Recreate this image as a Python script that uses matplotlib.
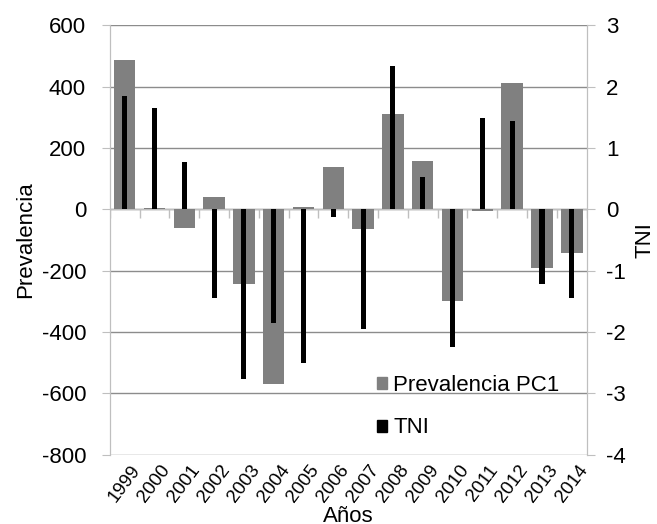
import numpy as np
import matplotlib.pyplot as plt
from matplotlib.patches import Patch

plt.rcParams['font.family'] = ['Liberation Sans', 'DejaVu Sans']
plt.rcParams['axes.unicode_minus'] = False

# data
years = ["1999", "2000", "2001", "2002", "2003", "2004", "2005", "2006",
         "2007", "2008", "2009", "2010", "2011", "2012", "2013", "2014"]
prevalencia = [487, 3, -62, 41, -244, -570, 7, 138,
               -65, 311, 157, -300, -5, 412, -190, -143]
tni = [1.84, 1.65, 0.77, -1.44, -2.77, -1.86, -2.51, -0.12,
       -1.95, 2.34, 0.53, -2.24, 1.48, 1.44, -1.22, -1.44]

grid_col = '#8c8c8c'
spine_col = '#bfbfbf'

fig = plt.figure(figsize=(6.57, 5.24), dpi=100)
ax = fig.add_axes([0.167, 0.132, 0.726, 0.820])
x = np.arange(len(years))

ax.bar(x, prevalencia, width=0.72, color='#808080', zorder=2)
ax.set_ylim(-800, 600)
ax.set_yticks(range(-800, 601, 200))
ax.set_xlim(-0.5, len(years) - 0.5)
ax.yaxis.grid(True, color=grid_col, linewidth=1.0, zorder=0)
ax.set_axisbelow(True)
# category axis crosses at zero, with small marks between the years
ax.axhline(0, color=spine_col, linewidth=1.0, zorder=1)
ax.vlines(np.arange(-0.5, len(years), 1.0), -28, 0, color=spine_col,
          linewidth=1.0, zorder=1)

ax2 = ax.twinx()
ax2.bar(x, tni, width=0.17, color='black', zorder=3)
ax2.set_ylim(-4, 3)
ax2.set_yticks(range(-4, 4))

for a in (ax, ax2):
    a.spines['top'].set_visible(False)
    a.spines['bottom'].set_visible(False)
    a.spines['left'].set_color(spine_col)
    a.spines['right'].set_color(spine_col)
    a.tick_params(axis='y', length=6, color=spine_col, labelsize=16)
ax.tick_params(axis='y', pad=11)
ax2.tick_params(axis='y', pad=8)

ax.set_xticks(x)
ax.set_xticklabels(years, rotation=53, ha='center', fontsize=13.5)
ax.tick_params(axis='x', length=0, pad=5)

ax.set_ylabel("Prevalencia", fontsize=16, labelpad=4)
ax2.set_ylabel("TNI", fontsize=16, labelpad=6)
ax.set_xlabel("Años", fontsize=16, labelpad=0)

handles = [Patch(color='#808080', label='Prevalencia PC1'),
           Patch(color='black', label='TNI')]
ax2.legend(handles=handles, loc='upper left', bbox_to_anchor=(0.56, 0.185),
           frameon=False, fontsize=16, handlelength=0.45, handleheight=0.45,
           handletextpad=0.3, labelspacing=0.95, borderpad=0,
           borderaxespad=0)

fig.savefig("out.png", dpi=100)
